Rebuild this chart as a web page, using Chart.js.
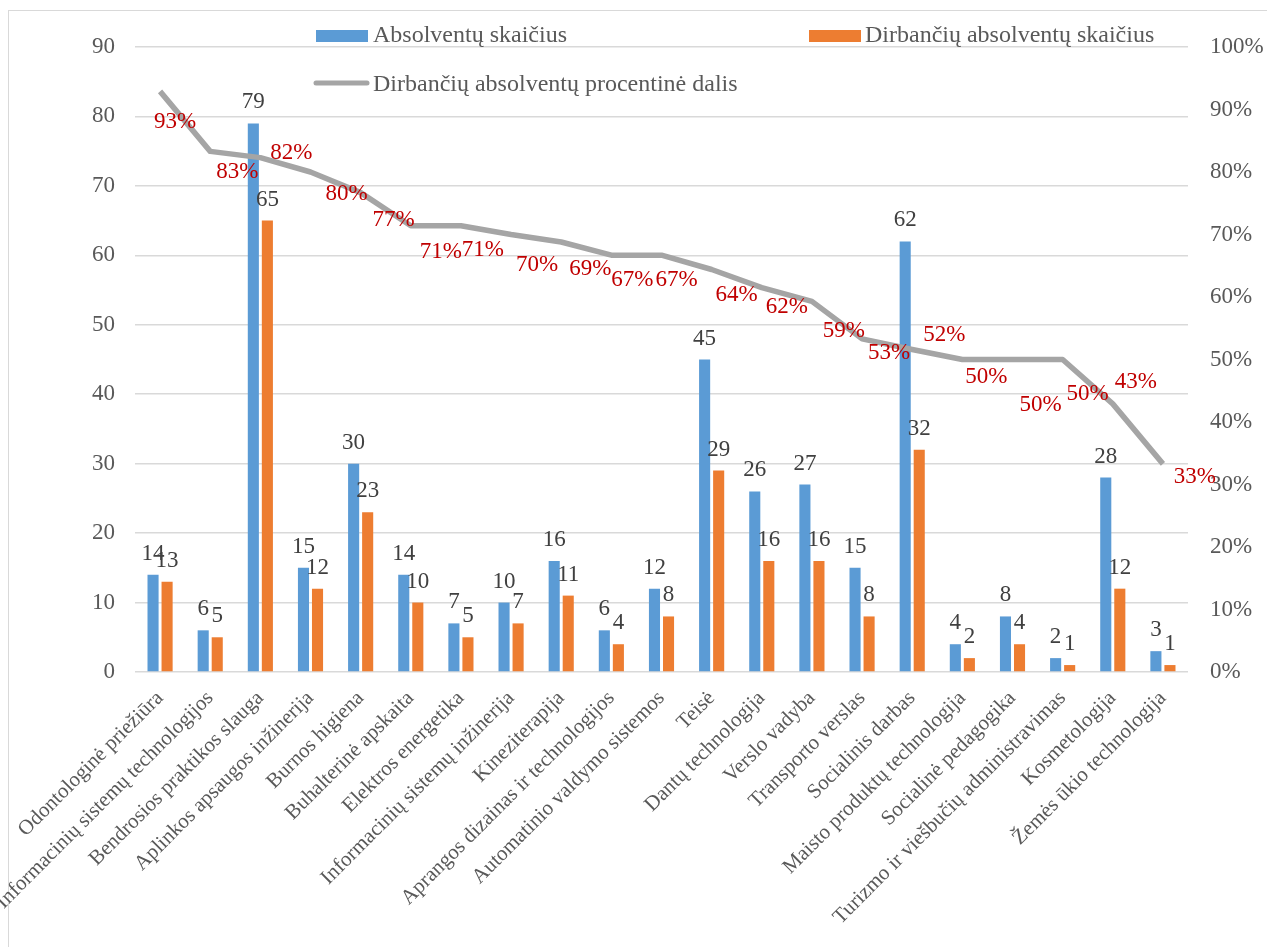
<!DOCTYPE html>
<html lang="lt">
<head>
<meta charset="UTF-8">
<title>Absolventai</title>
<script src="https://cdn.jsdelivr.net/npm/chart.js"></script>
<style>
  html, body { margin: 0; padding: 0; background: #fff; }
  #wrap { width: 1267px; height: 947px; position: relative; }
</style>
</head>
<body>
<div id="wrap"><canvas id="gradChart"></canvas></div>
<script>
const categories = [
  'Odontologinė priežiūra', 'Informacinių sistemų technologijos', 'Bendrosios praktikos slauga',
  'Aplinkos apsaugos inžinerija', 'Burnos higiena', 'Buhalterinė apskaita', 'Elektros energetika',
  'Informacinių sistemų inžinerija', 'Kineziterapija', 'Aprangos dizainas ir technologijos',
  'Automatinio valdymo sistemos', 'Teisė', 'Dantų technologija', 'Verslo vadyba',
  'Transporto verslas', 'Socialinis darbas', 'Maisto produktų technologija',
  'Socialinė pedagogika', 'Turizmo ir viešbučių administravimas', 'Kosmetologija',
  'Žemės ūkio technologija'
];
const graduates = [14, 6, 79, 15, 30, 14, 7, 10, 16, 6, 12, 45, 26, 27, 15, 62, 4, 8, 2, 28, 3];
const employed  = [13, 5, 65, 12, 23, 10, 5, 7, 11, 4, 8, 29, 16, 16, 8, 32, 2, 4, 1, 12, 1];
const employedShare = [0.929, 0.833, 0.823, 0.80, 0.767, 0.714, 0.714, 0.70, 0.688, 0.667, 0.667,
  0.644, 0.615, 0.593, 0.533, 0.516, 0.50, 0.50, 0.50, 0.429, 0.333];
const countTicks = [0, 10, 20, 30, 40, 50, 60, 70, 80, 90];
const shareTicks = [0, 0.1, 0.2, 0.3, 0.4, 0.5, 0.6, 0.7, 0.8, 0.9, 1];

// where each red % label sits, relative to its line point (px)
const shareLabelShift = [[15, 31], [27, 21], [31, -5], [36, 22], [33, 27], [30, 26], [22, 24],
  [26, 30], [29, 27], [21, 25], [15, 25], [25, 25], [25, 19], [32, 30], [27, 14], [32, -15],
  [24, 17], [28, 45], [25, 34], [23, -22], [32, 13]];

const SERIF = '"Liberation Serif", "Times New Roman", serif';
const TXT = '#595959';

const decorPlugin = {
  id: 'decor',
  beforeDraw(chart) {
    const ctx = chart.ctx;
    ctx.save();
    ctx.strokeStyle = '#D9D9D9';
    ctx.lineWidth = 1;
    ctx.strokeRect(8.5, 10.5, 1400, 1100);
    ctx.restore();
  },
  afterDatasetsDraw(chart) {
    const ctx = chart.ctx;
    ctx.save();
    // bar values
    ctx.font = '23px ' + SERIF;
    ctx.fillStyle = '#404040';
    ctx.textAlign = 'center';
    ctx.textBaseline = 'alphabetic';
    [0, 1].forEach(di => {
      chart.getDatasetMeta(di).data.forEach((el, i) => {
        ctx.fillText(chart.data.datasets[di].data[i], el.x, el.y - 15);
      });
    });
    // share labels
    ctx.fillStyle = '#C00000';
    ctx.textBaseline = 'middle';
    chart.getDatasetMeta(2).data.forEach((el, i) => {
      const s = shareLabelShift[i];
      ctx.fillText(Math.round(employedShare[i] * 100) + '%', el.x + s[0], el.y + s[1]);
    });
    ctx.restore();
  },
  afterDraw(chart) {
    const ctx = chart.ctx;
    ctx.save();
    ctx.font = '24px ' + SERIF;
    ctx.textAlign = 'left';
    ctx.textBaseline = 'middle';
    ctx.fillStyle = '#5B9BD5';
    ctx.fillRect(316, 30, 52, 12);
    ctx.fillStyle = '#ED7D31';
    ctx.fillRect(809, 30, 52, 12);
    ctx.strokeStyle = '#A5A5A5';
    ctx.lineWidth = 5;
    ctx.lineCap = 'round';
    ctx.beginPath();
    ctx.moveTo(316, 83);
    ctx.lineTo(367, 83);
    ctx.stroke();
    ctx.fillStyle = TXT;
    ctx.fillText('Absolventų skaičius', 373, 36);
    ctx.fillText('Dirbančių absolventų skaičius', 865, 36);
    ctx.fillText('Dirbančių absolventų procentinė dalis', 373, 85);
    ctx.restore();
  }
};

const ctx = document.getElementById('gradChart').getContext('2d');
new Chart(ctx, {
  type: 'bar',
  data: {
    labels: categories,
    datasets: [
      {
        label: 'Absolventų skaičius',
        data: graduates,
        backgroundColor: '#5B9BD5',
        yAxisID: 'y',
        order: 2,
        categoryPercentage: 0.56,
        barPercentage: 0.79
      },
      {
        label: 'Dirbančių absolventų skaičius',
        data: employed,
        backgroundColor: '#ED7D31',
        yAxisID: 'y',
        order: 2,
        categoryPercentage: 0.56,
        barPercentage: 0.79
      },
      {
        type: 'line',
        label: 'Dirbančių absolventų procentinė dalis',
        data: employedShare,
        borderColor: '#A5A5A5',
        borderWidth: 5.5,
        pointRadius: 0,
        tension: 0,
        borderJoinStyle: 'round',
        yAxisID: 'y1',
        order: 1
      }
    ]
  },
  options: {
    responsive: true,
    maintainAspectRatio: false,
    animation: false,
    layout: { padding: { top: 47, left: 0, right: 0, bottom: 0 } },
    plugins: {
      legend: { display: false },
      tooltip: { enabled: false }
    },
    scales: {
      x: {
        grid: { display: false, drawTicks: false },
        border: { display: false },
        ticks: {
          autoSkip: false,
          maxRotation: 45,
          minRotation: 45,
          padding: 14,
          color: TXT,
          font: { family: SERIF, size: 21 }
        },
        afterFit(scale) {
          scale.height = 275;
          scale.paddingLeft = 0;
          scale.paddingRight = 0;
        }
      },
      y: {
        position: 'left',
        min: 0,
        max: 90,
        afterBuildTicks(scale) { scale.ticks = countTicks.map(v => ({ value: v })); },
        grid: { color: '#D9D9D9', lineWidth: 1.5, drawTicks: false },
        border: { display: false },
        ticks: {
          padding: 20,
          color: TXT,
          font: { family: SERIF, size: 23 }
        },
        afterFit(scale) { scale.width = 135; }
      },
      y1: {
        position: 'right',
        min: 0,
        max: 1,
        afterBuildTicks(scale) { scale.ticks = shareTicks.map(v => ({ value: v })); },
        grid: { display: false, drawTicks: false },
        border: { display: false },
        ticks: {
          padding: 22,
          color: TXT,
          font: { family: SERIF, size: 23 },
          callback: v => Math.round(v * 100) + '%'
        },
        afterFit(scale) { scale.width = 79; }
      }
    }
  },
  plugins: [decorPlugin]
});
</script>
</body>
</html>
